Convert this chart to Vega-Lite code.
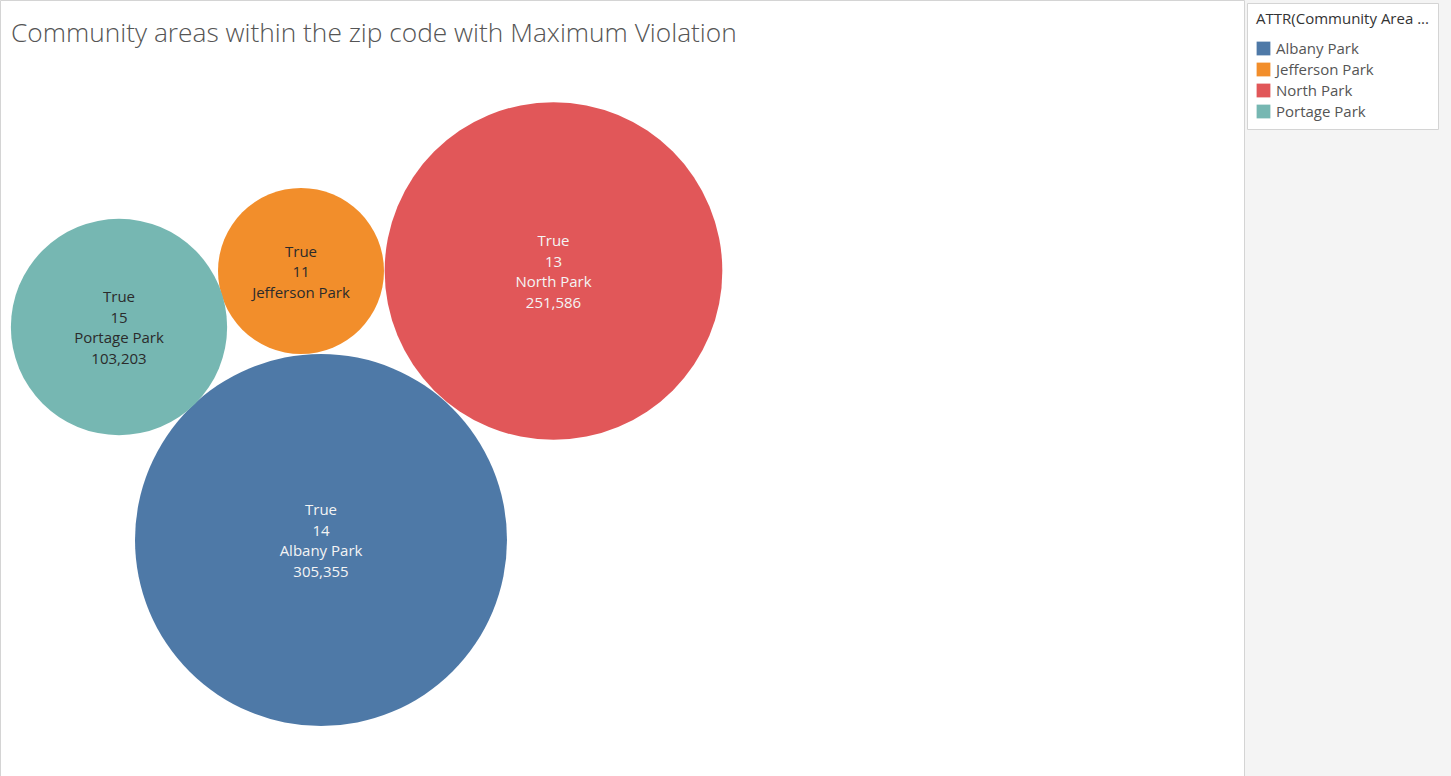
{
  "$schema": "https://vega.github.io/schema/vega-lite/v6.json",
  "width": 1244,
  "height": 776,
  "autosize": {"type": "none"},
  "padding": {"left": 0, "top": 0, "right": 207, "bottom": 0},
  "background": "#f4f4f4",
  "title": {
    "text": "Community areas within the zip code with Maximum Violation",
    "anchor": "start",
    "orient": "top",
    "frame": "group",
    "offset": -68,
    "dx": 11,
    "baseline": "alphabetic",
    "font": "Open Sans",
    "fontSize": 26.3,
    "fontWeight": 300,
    "color": "#555555"
  },
  "config": {
    "view": {"fill": "#ffffff", "stroke": "#d4d4d4", "strokeWidth": 1},
    "font": "Open Sans",
    "legend": {
      "orient": "none",
      "legendX": 1247,
      "legendY": 3,
      "padding": 9,
      "fillColor": "#ffffff",
      "strokeColor": "#d4d4d4",
      "symbolType": "square",
      "symbolSize": 190,
      "symbolStrokeWidth": 0,
      "labelFont": "Open Sans",
      "labelFontSize": 15,
      "labelColor": "#555555",
      "labelOffset": 5,
      "rowPadding": 5,
      "titleFont": "Open Sans",
      "titleFontSize": 15,
      "titleFontWeight": "normal",
      "titleColor": "#333333",
      "titlePadding": 14,
      "titleLimit": 300
    }
  },
  "data": {
    "values": [
      {"area": "Albany Park", "flag": "True", "num": 14, "violations": 305355, "label": "True\n14\nAlbany Park\n305,355", "lines": 4, "bx": 321, "by": 540},
      {"area": "Jefferson Park", "flag": "True", "num": 11, "violations": 60800, "label": "True\n11\nJefferson Park", "lines": 3, "bx": 301, "by": 271},
      {"area": "North Park", "flag": "True", "num": 13, "violations": 251586, "label": "True\n13\nNorth Park\n251,586", "lines": 4, "bx": 553.5, "by": 271},
      {"area": "Portage Park", "flag": "True", "num": 15, "violations": 103203, "label": "True\n15\nPortage Park\n103,203", "lines": 4, "bx": 119, "by": 327}
    ]
  },
  "encoding": {
    "x": {"field": "bx", "type": "quantitative", "scale": {"domain": [0, 1244], "nice": false, "zero": false}, "axis": null},
    "y": {"field": "by", "type": "quantitative", "scale": {"domain": [0, 776], "nice": false, "zero": false, "reverse": true}, "axis": null}
  },
  "layer": [
    {
      "mark": {"type": "circle", "opacity": 1, "strokeWidth": 0},
      "encoding": {
        "size": {"field": "violations", "type": "quantitative", "scale": {"type": "linear", "domain": [0, 305355], "range": [0, 138384], "zero": true}, "legend": null},
        "color": {
          "field": "area",
          "type": "nominal",
          "title": "ATTR(Community Area ...",
          "scale": {"domain": ["Albany Park", "Jefferson Park", "North Park", "Portage Park"], "range": ["#4e79a7", "#f28e2b", "#e15759", "#76b7b2"]}
        }
      }
    },
    {
      "transform": [{"filter": "datum.lines === 4"}],
      "mark": {"type": "text", "lineBreak": "\n", "lineHeight": 20.5, "font": "Open Sans", "fontSize": 15, "align": "center", "baseline": "middle", "dy": -30},
      "encoding": {
        "text": {"field": "label", "type": "nominal"},
        "color": {
          "condition": {"test": "datum.area === 'Albany Park' || datum.area === 'North Park'", "value": "#f4f4f4"},
          "value": "#2b2b2b"
        }
      }
    },
    {
      "transform": [{"filter": "datum.lines === 3"}],
      "mark": {"type": "text", "lineBreak": "\n", "lineHeight": 20.5, "font": "Open Sans", "fontSize": 15, "align": "center", "baseline": "middle", "dy": -19.5},
      "encoding": {
        "text": {"field": "label", "type": "nominal"},
        "color": {"value": "#2b2b2b"}
      }
    }
  ]
}
